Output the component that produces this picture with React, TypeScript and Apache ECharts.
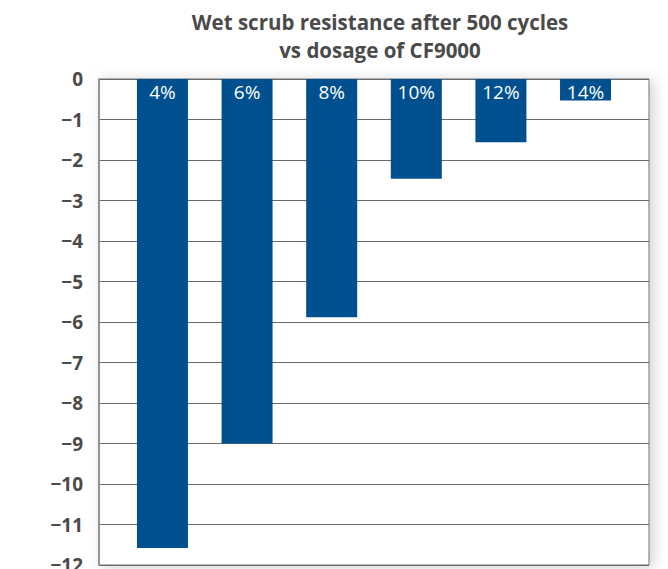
import React, { useEffect, useRef } from "react";
import * as echarts from "echarts";

const titleLines = ["Wet scrub resistance after 500 cycles", "vs dosage of CF9000"];
const dosages = [4, 6, 8, 10, 12, 14];
const dosageLabels = ["4%", "6%", "8%", "10%", "12%", "14%"];
const scrubValues = [-11.58, -9.0, -5.88, -2.46, -1.56, -0.53];
const yMin = -12;
const yMax = 0;
const yStep = 1;

export default function App() {
  const ref = useRef<HTMLDivElement>(null);
  useEffect(() => {
    if (!ref.current) return;
    const chart = echarts.init(ref.current, null, { renderer: "svg" });
    const data = dosages.map((d, i) => ({ value: [d, scrubValues[i]], label: dosageLabels[i] }));
    chart.setOption({
      animation: false,
      backgroundColor: "#ffffff",
      title: {
        text: titleLines.join("\n"),
        left: 375,
        top: 3,
        textAlign: "center",
        textStyle: {
          fontFamily: "Open Sans",
          fontWeight: "bold",
          fontSize: 20.5,
          lineHeight: 28,
          color: "#4a4a4a",
        },
      },
      grid: {
        left: 99,
        right: 19,
        top: 79,
        bottom: 4,
        outerBoundsMode: "none",
        containLabel: false,
        show: true,
        borderColor: "#6e6e6e",
        borderWidth: 1,
        backgroundColor: "#ffffff",
        shadowColor: "rgba(0,0,0,0.18)",
        shadowBlur: 14,
        shadowOffsetX: 4,
        shadowOffsetY: 2,
      },
      xAxis: {
        type: "value",
        min: 2.5,
        max: 15.5,
        show: false,
        splitLine: { show: false },
      },
      yAxis: {
        type: "value",
        min: yMin,
        max: yMax,
        interval: yStep,
        axisLine: { show: true, lineStyle: { color: "#8a8a8a", width: 1.5 } },
        axisTick: { show: false },
        splitLine: { show: true, lineStyle: { color: "#6a6a6a", width: 1 } },
        axisLabel: {
          margin: 16,
          fontFamily: "Open Sans",
          fontWeight: "bold",
          fontSize: 19,
          color: "#4a4a4a",
          formatter: (v: number) => (v < 0 ? "\u2212" + Math.abs(v) : String(v)),
        },
      },
      series: [
        {
          type: "bar",
          data,
          barWidth: 51,
          itemStyle: { color: "#004f8f" },
          label: {
            show: true,
            position: "insideTop",
            distance: 3,
            formatter: (p: any) => p.data.label,
            fontFamily: "Open Sans",
            fontSize: 19,
            color: "#ffffff",
          },
        },
      ],
    });
    return () => chart.dispose();
  }, []);
  return (
    <div
      ref={ref}
      style={{ position: "fixed", left: 0, top: 0, width: 668, height: 569 }}
    />
  );
}
